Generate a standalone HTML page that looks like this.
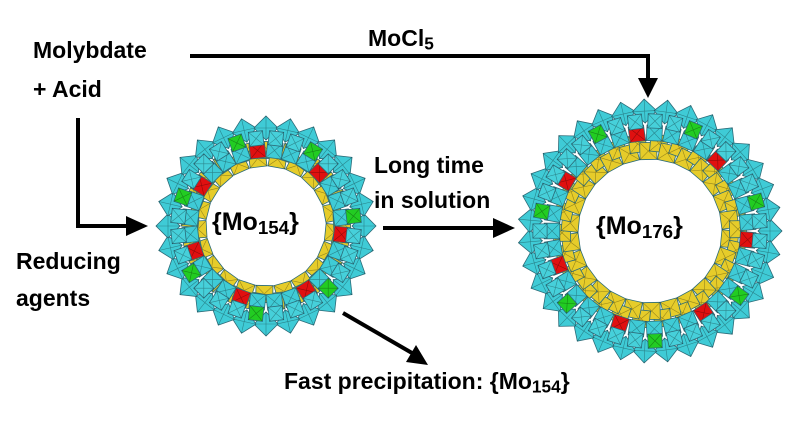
<!DOCTYPE html>
<html><head><meta charset="utf-8"><style>
html,body{margin:0;padding:0;background:#fff;}
body{width:798px;height:430px;overflow:hidden;position:relative;font-family:"Liberation Sans",Arial,sans-serif;font-weight:bold;color:#000;}
.t{position:absolute;font-size:23px;white-space:nowrap;line-height:1;}
sub{font-size:0.75em;vertical-align:-0.2em;}
</style></head><body>
<svg id="s" width="798" height="430" style="position:absolute;left:0;top:0">
<g id="rings"></g>
<g stroke="#000" stroke-width="4" fill="none">
<polyline points="190,56 648,56 648,80"/>
<polyline points="78,118 78,226 128,226"/>
<line x1="383" y1="228" x2="495" y2="228"/>
<line x1="343" y1="313" x2="412" y2="353"/>
</g>
<g fill="#000">
<polygon points="638,78 658,78 648,98"/>
<polygon points="126,216 126,236 148,226"/>
<polygon points="493,218 493,238 515,228"/>
<polygon points="406,362 416,345 428,365"/>
</g>
</svg>
<div class="t" style="left:33px;top:39px">Molybdate</div>
<div class="t" style="left:33px;top:78px">+ Acid</div>
<div class="t" style="left:368px;top:27px">MoCl<sub>5</sub></div>
<div class="t" style="left:16px;top:250px">Reducing</div>
<div class="t" style="left:16px;top:287px">agents</div>
<div class="t" style="left:374px;top:154px">Long time</div>
<div class="t" style="left:374px;top:189px">in solution</div>
<div class="t" style="left:212px;top:210px;font-size:25px">{Mo<sub>154</sub>}</div>
<div class="t" style="left:596px;top:214px;font-size:25px">{Mo<sub>176</sub>}</div>
<div class="t" style="left:284px;top:370px">Fast precipitation: {Mo<sub>154</sub>}</div>
<script>
(function(){
var g=document.getElementById('rings'),ns='http://www.w3.org/2000/svg';
function dia(cx,cy,s,rot,fill){
 var p=[];for(var k=0;k<4;k++){var a=rot+k*Math.PI/2;p.push((cx+s*Math.cos(a)).toFixed(1)+','+(cy+s*Math.sin(a)).toFixed(1));}
 var e=document.createElementNS(ns,'polygon');e.setAttribute('points',p.join(' '));
 e.setAttribute('fill',fill);e.setAttribute('stroke','#2b6b78');e.setAttribute('stroke-width','0.8');g.appendChild(e);
 var l=document.createElementNS(ns,'path');
 l.setAttribute('d','M'+p[0]+' L'+p[2]+' M'+p[1]+' L'+p[3]);l.setAttribute('stroke','rgba(0,0,0,0.35)');l.setAttribute('stroke-width','0.6');g.appendChild(l);
}
function ring(cx,cy,R,ri,n){
 var i,a;
 var ny=Math.round(n*0.75);
 for(i=0;i<ny*2;i++){a=i*Math.PI/ny+0.1;var r=ri+12+(i%2)*8;dia(cx+r*Math.cos(a),cy+r*Math.sin(a),12,a+Math.PI/4,'#e6cc2a');}
 for(i=0;i<n;i++){a=(i+0.5)*2*Math.PI/n;var r=R-34;var f='#3fcbd6';
  if(i%(n/7|0)==0)f='#e01010';dia(cx+r*Math.cos(a),cy+r*Math.sin(a),11,a+Math.PI/4,f);}
 for(i=0;i<n;i++){a=i*2*Math.PI/n;var r=R-12;dia(cx+r*Math.cos(a),cy+r*Math.sin(a),12,a,'#3fcbd6');}
 for(i=0;i<n;i++){a=(i+0.5)*2*Math.PI/n;var r=R-22;var f=(i%(Math.round(n/7))==3)?'#22cc22':'#46d0da';
  dia(cx+r*Math.cos(a),cy+r*Math.sin(a),10,a+Math.PI/4,f);}
}
ring(266,226,110,56,28);
ring(650,231,132,68,35);
})();
</script>
</body></html>
